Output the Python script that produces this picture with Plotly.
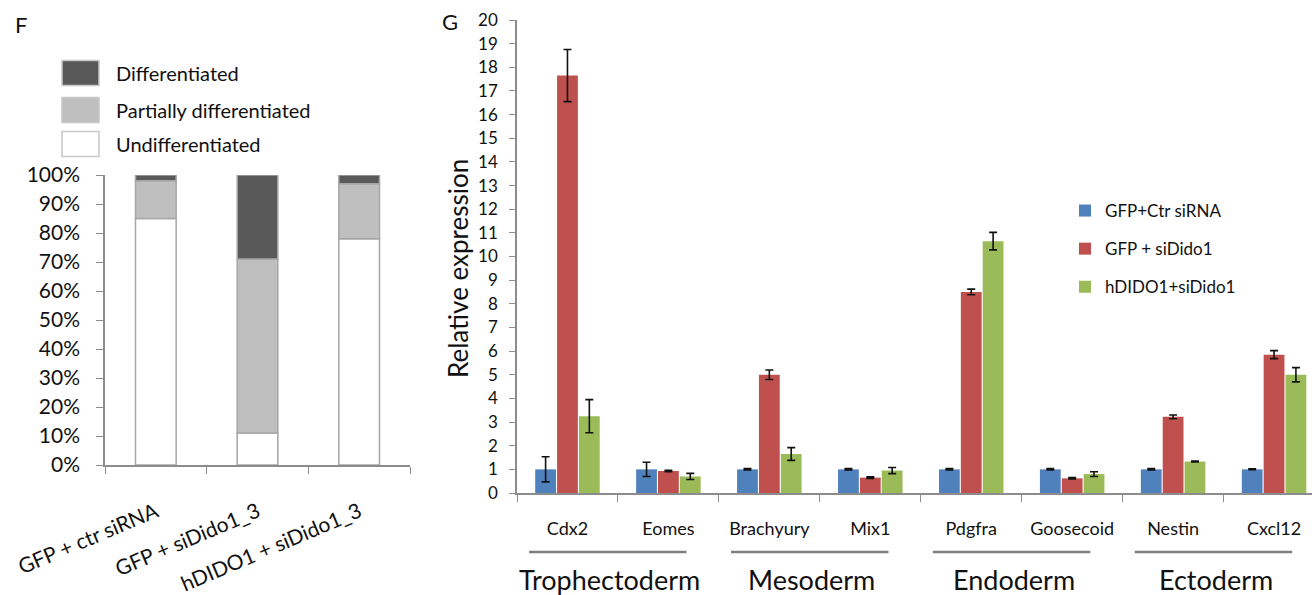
import plotly.graph_objects as go

W, H = 1312, 595
FONT = "Lato, 'Open Sans', sans-serif"

# ---------------- Panel F data ----------------
f_conditions = ["GFP + ctr siRNA", "GFP + siDido1_3", "hDIDO1 + siDido1_3"]
f_undiff = [85, 11, 78]
f_partial = [13, 60, 19]
f_diff = [2, 29, 3]
f_names = ["Differentiated", "Partially differentiated", "Undifferentiated"]
f_colors = ["#595959", "#BFBFBF", "#FFFFFF"]
f_ticks = [0, 10, 20, 30, 40, 50, 60, 70, 80, 90, 100]
f_ticktext = ["0%", "10%", "20%", "30%", "40%", "50%", "60%", "70%", "80%", "90%", "100%"]

# ---------------- Panel G data ----------------
genes = ["Cdx2", "Eomes", "Brachyury", "Mix1", "Pdgfra", "Goosecoid", "Nestin", "Cxcl12"]
ctr_vals = [1.0, 1.0, 1.0, 1.0, 1.0, 1.0, 1.0, 1.0]
ctr_err = [0.53, 0.3, 0.03, 0.03, 0.03, 0.03, 0.03, 0.02]
sid_vals = [17.65, 0.93, 5.0, 0.65, 8.5, 0.62, 3.22, 5.85]
sid_err = [1.1, 0.03, 0.2, 0.03, 0.12, 0.03, 0.08, 0.17]
hd_vals = [3.25, 0.7, 1.65, 0.95, 10.65, 0.8, 1.33, 5.0]
hd_err = [0.7, 0.13, 0.27, 0.13, 0.37, 0.1, 0.02, 0.3]
g_names = ["GFP+Ctr siRNA", "GFP + siDido1", "hDIDO1+siDido1"]
g_colors = ["#4F81BD", "#C0504D", "#9BBB59"]
germ_layers = ["Trophectoderm", "Mesoderm", "Endoderm", "Ectoderm"]


def px(x):
    return x / W


def py(y):
    return (H - y) / H


fig = go.Figure()

# ---- Panel F stacked bars (explicit base) ----
base_partial = [u for u in f_undiff]
base_diff = [u + p for u, p in zip(f_undiff, f_partial)]
stack = [
    (f_names[2], f_undiff, [0, 0, 0], f_colors[2]),
    (f_names[1], f_partial, base_partial, f_colors[1]),
    (f_names[0], f_diff, base_diff, f_colors[0]),
]
for name, vals, base, col in stack:
    fig.add_trace(go.Bar(
        x=f_conditions, y=vals, base=base, name=name,
        marker=dict(color=col, line=dict(color="#A6A6A6", width=1.5)),
        width=0.4, offset=-0.2, offsetgroup="stack",
        xaxis="x", yaxis="y", showlegend=False, hoverinfo="skip",
    ))

# ---- Panel G grouped bars ----
for name, vals, errs, col in zip(g_names, [ctr_vals, sid_vals, hd_vals],
                                 [ctr_err, sid_err, hd_err], g_colors):
    fig.add_trace(go.Bar(
        x=genes, y=vals, name=name, legendgroup=name,
        marker=dict(color=col, line=dict(width=0)),
        error_y=dict(type="data", array=errs, color="#111111", thickness=1.6, width=4),
        xaxis="x2", yaxis="y2",
    ))

axis_col = "#8C8C8C"

shapes = []
annotations = []

# custom legend for panel F
leg_y = [73, 110, 144]
for name, col, yc in zip(f_names, f_colors, leg_y):
    shapes.append(dict(type="rect", xref="paper", yref="paper",
                       x0=px(62), x1=px(99), y0=py(yc + 12.5), y1=py(yc - 12.5),
                       fillcolor=col, line=dict(color="#C8C8C8", width=1.5)))
    annotations.append(dict(text=name, xref="paper", yref="paper", x=px(114), y=py(yc),
                            xanchor="left", yanchor="middle", showarrow=False,
                            font=dict(family=FONT, size=20, color="#111111")))

# germ layer lines and labels
for g, layer in enumerate(germ_layers):
    shapes.append(dict(type="line", xref="x2", yref="paper",
                       x0=2 * g - 0.38, x1=2 * g + 1.18, y0=py(552), y1=py(552),
                       line=dict(color="#7F7F7F", width=2.5)))
    annotations.append(dict(text=layer, xref="x2", yref="paper", x=2 * g + 0.42, y=py(579),
                            xanchor="center", yanchor="middle", showarrow=False,
                            font=dict(family=FONT, size=27, color="#111111")))

# panel letters and y title
annotations.append(dict(text="F", xref="paper", yref="paper", x=px(13), y=py(25),
                        xanchor="left", yanchor="middle", showarrow=False,
                        font=dict(family=FONT, size=22, color="#111111")))
annotations.append(dict(text="G", xref="paper", yref="paper", x=px(440), y=py(22),
                        xanchor="left", yanchor="middle", showarrow=False,
                        font=dict(family=FONT, size=22, color="#111111")))
annotations.append(dict(text="Relative expression", xref="paper", yref="paper",
                        x=px(458), y=py(268), textangle=-90,
                        xanchor="center", yanchor="middle", showarrow=False,
                        font=dict(family=FONT, size=26, color="#111111")))

fig.update_layout(
    width=W, height=H,
    margin=dict(l=0, r=0, t=0, b=0, autoexpand=False),
    paper_bgcolor="white", plot_bgcolor="white",
    font=dict(family=FONT, color="#111111"),
    barmode="group", bargap=0.35, bargroupgap=0.05,
    xaxis=dict(domain=[px(105), px(410)], anchor="y", type="category", automargin=False,
               range=[-0.5, 2.5], tickson="boundaries", ticks="outside", ticklen=7,
               tickcolor=axis_col, showline=True, linecolor=axis_col, linewidth=1.5,
               showgrid=False, tickangle=-23, ticklabelstandoff=25,
               tickfont=dict(family=FONT, size=21, color="#111111")),
    yaxis=dict(domain=[py(465), py(175)], anchor="x", range=[0, 100], automargin=False,
               tickmode="array", tickvals=f_ticks, ticktext=f_ticktext,
               ticks="outside", ticklen=7, ticklabelstandoff=12,
               tickcolor=axis_col, showline=True, linecolor=axis_col, linewidth=1.5,
               showgrid=False, zeroline=False,
               tickfont=dict(family=FONT, size=21, color="#111111")),
    xaxis2=dict(domain=[px(517), 1.0], anchor="y2", type="category", automargin=False,
                range=[-0.5, 7.376], tickson="boundaries", ticks="outside", ticklen=7,
                tickcolor=axis_col, showline=True, linecolor=axis_col, linewidth=1.5,
                showgrid=False, ticklabelstandoff=19,
                tickfont=dict(family=FONT, size=18, color="#111111")),
    yaxis2=dict(domain=[py(493), py(20)], anchor="x2", range=[0, 20], dtick=1,
                automargin=False, ticklabelstandoff=8,
                ticks="outside", ticklen=6, tickcolor=axis_col, showline=True,
                linecolor=axis_col, linewidth=1.5, showgrid=False, zeroline=False,
                tickfont=dict(family=FONT, size=17, color="#111111")),
    legend=dict(x=px(1065), y=py(193), xanchor="left", yanchor="top",
                bgcolor="rgba(0,0,0,0)", tracegroupgap=13,
                font=dict(family=FONT, size=17, color="#111111")),
    shapes=shapes,
    annotations=annotations,
)

fig.write_html(
    "out.html",
    config={"displayModeBar": False},
    post_script="document.body.style.margin='0';document.body.style.overflow='hidden';",
)
